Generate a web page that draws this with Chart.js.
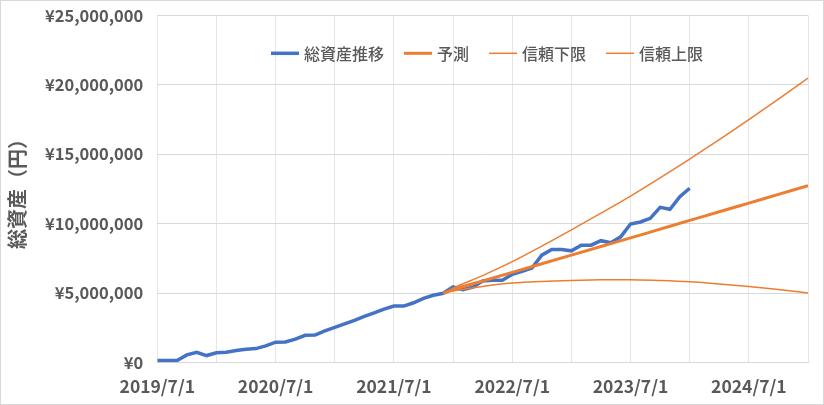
<!DOCTYPE html>
<html>
<head>
<meta charset="utf-8">
<script src="https://cdn.jsdelivr.net/npm/chart.js@4.4.0/dist/chart.umd.min.js"></script>
<style>
html,body{margin:0;padding:0;background:#fff;}
#wrap{width:824px;height:405px;position:relative;}
</style>
</head>
<body>
<div id="wrap"><canvas id="c" width="824" height="405"></canvas></div>
<script>
// ---- data (months counted from 2019/7/1) ----
const seriesNames = ['総資産推移', '予測', '信頼下限', '信頼上限'];
const assetMonths = [0,1,2,3,4,5,6,7,8,9,10,11,12,13,14,15,16,17,18,19,20,21,22,23,24,25,26,27,28,29,30,31,32,33,34,35,36,37,38,39,40,41,42,43,44,45,46,47,48,49,50,51,52,53,54];
const assetValues = [150000,150000,150000,550000,740000,500000,700000,740000,860000,960000,
  1000000,1200000,1460000,1480000,1680000,1960000,1980000,2280000,2530000,2780000,
  3040000,3320000,3580000,3840000,4060000,4060000,4300000,4620000,4840000,4980000,
  5440000,5250000,5420000,5870000,5920000,5920000,6350000,6570000,6800000,7730000,
  8140000,8140000,8040000,8450000,8450000,8770000,8620000,9050000,9970000,10120000,
  10380000,11170000,11030000,11940000,12550000];
const forecastMonths = [29,30,33,36,39,42,45,48,51,54,57,60,63,66];
const forecastValues = [4980000,5250000,5870000,6490000,7110000,7730000,8350000,8970000,9600000,10230000,10850000,11480000,12110000,12740000];
const lowerValues    = [4980000,5150000,5480000,5720000,5840000,5910000,5950000,5960000,5900000,5810000,5660000,5480000,5260000,5000000];
const upperValues    = [4980000,5350000,6260000,7260000,8380000,9550000,10750000,11980000,13300000,14650000,16040000,17480000,18960000,20480000];
const xTickMonths = [0,6,12,18,24,30,36,42,48,54,60,66];
const xTickLabels = ['2019/7/1','','2020/7/1','','2021/7/1','','2022/7/1','','2023/7/1','','2024/7/1',''];
const yTickValues = [0,5000000,10000000,15000000,20000000,25000000];
const yTickLabels = ['¥0','¥5,000,000','¥10,000,000','¥15,000,000','¥20,000,000','¥25,000,000'];
const yTitle = '総資産（円）';

const toPts = (xs, ys) => xs.map((x, i) => ({x: x, y: ys[i]}));
const FONT = '"Noto Sans CJK JP", "Noto Sans", sans-serif';
const GREY = '#595959';

const legendPlugin = {
  id: 'customLegend',
  afterDraw(chart) {
    const ctx = chart.ctx;
    const ds = chart.data.datasets;
    ctx.save();
    ctx.font = '500 16px ' + FONT;
    ctx.textBaseline = 'middle';
    const sw = 28, gap = 5, itemGap = 20;
    let x = 271;
    const y = 53.3;
    ds.forEach((d) => {
      ctx.strokeStyle = d.borderColor;
      ctx.lineWidth = d.borderWidth;
      ctx.beginPath();
      ctx.moveTo(x, y);
      ctx.lineTo(x + sw, y);
      ctx.stroke();
      ctx.fillStyle = GREY;
      ctx.fillText(d.label, x + sw + gap, y + 1);
      x += sw + gap + ctx.measureText(d.label).width + itemGap;
    });
    ctx.restore();
  }
};
const borderPlugin = {
  id: 'frame',
  afterDraw(chart) {
    const ctx = chart.ctx;
    ctx.save();
    ctx.strokeStyle = '#d9d9d9';
    ctx.lineWidth = 1;
    ctx.strokeRect(0.5, 0.5, chart.width - 1, chart.height - 1);
    ctx.restore();
  }
};

new Chart(document.getElementById('c'), {
  type: 'line',
  data: {
    datasets: [
      {label: seriesNames[0], data: toPts(assetMonths, assetValues), borderColor: '#4472C4', borderWidth: 3.5, pointRadius: 0, tension: 0, order: 1},
      {label: seriesNames[1], data: toPts(forecastMonths, forecastValues), borderColor: '#ED7D31', borderWidth: 3, pointRadius: 0, cubicInterpolationMode: 'monotone', order: 0},
      {label: seriesNames[2], data: toPts(forecastMonths, lowerValues), borderColor: '#ED7D31', borderWidth: 1.5, pointRadius: 0, cubicInterpolationMode: 'monotone', order: 0},
      {label: seriesNames[3], data: toPts(forecastMonths, upperValues), borderColor: '#ED7D31', borderWidth: 1.5, pointRadius: 0, cubicInterpolationMode: 'monotone', order: 0}
    ]
  },
  options: {
    responsive: false,
    animation: false,
    layout: {padding: {left: 0, right: 16, top: 15.3, bottom: 0}},
    plugins: {legend: {display: false}, tooltip: {enabled: false}},
    scales: {
      x: {
        type: 'linear', min: 0, max: 66,
        afterBuildTicks: s => { s.ticks = xTickMonths.map(v => ({value: v})); },
        afterFit: s => { s.height = 42.5; },
        ticks: {autoSkip: false, maxRotation: 0, minRotation: 0, padding: 13, color: GREY,
          font: {family: FONT, size: 17.5, weight: 'bold'},
          callback: (v, i) => xTickLabels[i]},
        grid: {color: '#e6e6e6', drawTicks: false},
        border: {color: '#d9d9d9'}
      },
      y: {
        min: 0, max: 25000000,
        afterBuildTicks: s => { s.ticks = yTickValues.map(v => ({value: v})); },
        afterFit: s => { s.width = 157.3; },
        ticks: {padding: 0, color: GREY, font: {family: FONT, size: 16.5, weight: 'bold'},
          callback: (v, i) => yTickLabels[i]},
        grid: {color: '#d9d9d9', drawTicks: true, tickLength: 14, tickColor: 'rgba(0,0,0,0)'},
        border: {display: false},
        title: {display: true, text: yTitle, color: GREY, padding: {top: 5, bottom: 0},
          font: {family: FONT, size: 20, weight: 'bold'}}
      }
    }
  },
  plugins: [legendPlugin, borderPlugin]
});
</script>
</body>
</html>
